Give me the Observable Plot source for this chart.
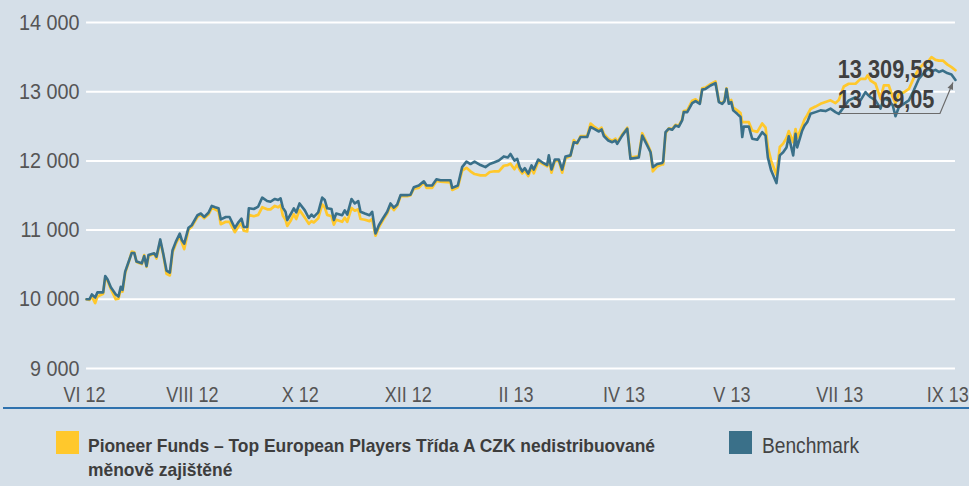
<!DOCTYPE html>
<html>
<head>
<meta charset="utf-8">
<script src="https://cdn.jsdelivr.net/npm/d3@7"></script>
<script src="https://cdn.jsdelivr.net/npm/@observablehq/plot@0.6"></script>
<style>
  html, body { margin: 0; padding: 0; }
  body { width: 969px; height: 486px; background: #d5dfe8; position: relative; overflow: hidden;
         font-family: "Liberation Sans", Arial, sans-serif; }
  #chart { position: absolute; left: 0; top: 0; }
  .rule { position: absolute; left: 3px; top: 407px; width: 966px; height: 2px; background: #2f72ae; }
  .sw { position: absolute; width: 23px; height: 23px; top: 431px; }
  .lg { position: absolute; white-space: nowrap; transform-origin: 0 0; }
  .lg div { white-space: nowrap; display: block; }
  .lg span { display: inline-block; }
</style>
</head>
<body>
<div id="chart"></div>
<div class="rule"></div>
<div class="sw" style="left:56px;background:#ffc82c"></div>
<div class="lg" id="lg1" data-w="567" style="left:88px;top:434px;font-size:19px;line-height:24px;font-weight:bold;color:#3d3d3d"><div><span>Pioneer Funds – Top European Players Třída A CZK nedistribuované</span></div><div>měnově zajištěné</div></div>
<div class="sw" style="left:729px;background:#3a7089"></div>
<div class="lg" id="lg2" data-w="97" style="left:762px;top:434px;font-size:22px;line-height:24px;color:#444"><div><span>Benchmark</span></div></div>
<script>
const t = [0.019,0.046,0.068,0.099,0.120,0.173,0.192,0.213,0.244,0.290,
0.315,0.336,0.352,0.377,0.414,0.438,0.461,0.482,0.531,0.553,
0.575,0.593,0.646,0.667,0.702,0.729,0.760,0.791,0.816,0.846,
0.883,0.902,0.924,0.964,0.994,1.047,1.078,1.109,1.149,1.180,
1.211,1.242,1.263,1.310,
1.344,1.393,1.430,1.455,1.476,1.508,1.523,1.569,1.610,1.647,
1.693,1.724,1.764,1.795,1.817,1.838,1.863,1.879,1.909,1.940,
1.962,1.993,2.042,2.079,2.104,2.125,2.166,2.203,2.227,2.249,
2.289,2.311,2.333,2.388,2.412,2.435,2.475,2.505,2.537,2.558,
2.598,2.641,2.666,2.697,
2.728,2.768,2.805,2.836,2.867,2.898,2.929,2.991,3.021,3.052,
3.098,3.145,3.170,3.222,3.262,3.299,3.392,3.408,3.460,3.500,
3.540,3.577,3.615,3.670,3.716,3.756,3.800,3.840,3.886,3.923,
3.948,3.985,4.010,4.034,
4.057,4.081,4.112,4.143,4.164,4.205,4.242,4.288,4.303,4.328,
4.359,4.396,4.427,4.458,4.504,4.535,4.566,4.597,4.659,4.690,
4.720,4.767,4.792,4.813,4.854,4.891,4.921,4.937,4.983,5.030,
5.060,5.100,5.137,5.169,5.215,5.246,5.267,5.308,5.354,
5.363,5.385,5.415,5.447,5.477,5.508,5.539,5.554,5.586,5.632,
5.663,5.703,5.725,5.755,5.802,5.848,5.879,5.910,5.932,5.950,
5.971,5.994,6.012,6.049,6.080,6.096,6.110,6.157,6.188,6.235,
6.281,6.312,6.333,6.364,6.413,6.444,6.475,6.506,6.527,6.568,
6.590,6.605,6.652,6.673,6.698,
6.729,6.775,6.821,6.868,6.914,6.960,6.991,7.037,7.083,7.146,
7.192,7.238,7.257,7.285,7.331,7.377,7.408,7.454,7.491,7.516,
7.547,7.593,7.640,7.686,7.732,7.779,7.819,7.850,7.887,7.918,
7.955,7.995,8.035,8.072];

const bench = [10000,10000,10070,10025,10100,10100,10335,10290,10175,10070,
10040,10180,10135,10400,10565,10670,10670,10545,10520,10625,
10480,10640,10665,10615,10865,10665,10415,10385,10710,10830,
10950,10855,10805,11035,11070,11215,11240,11190,11250,11350,
11330,11315,11155,11190,
11190,11030,11120,11165,11045,11045,11315,11305,11340,11470,
11420,11410,11450,11435,11460,11325,11265,11145,11225,11315,
11255,11385,11285,11175,11225,11190,11255,11470,11435,11315,
11305,11145,11240,11215,11285,11225,11450,11385,11420,11265,
11240,11215,11265,10950,
11070,11175,11265,11385,11325,11370,11505,11505,11510,11620,
11645,11705,11645,11645,11735,11720,11720,11610,11645,11910,
11990,11955,11990,11940,11910,11955,11980,12005,12065,12050,
12100,12005,12030,11910,
11850,11895,11815,11935,11875,12020,11980,11940,12080,11875,
12020,12020,11875,12065,12080,12270,12260,12345,12345,12490,
12465,12425,12455,12360,12295,12270,12295,12245,12365,12465,
12030,12040,12050,12365,12225,12125,11910,11955,11970,
11995,12415,12465,12450,12510,12495,12585,12705,12705,12835,
12865,12825,13030,13040,13090,13125,12850,12825,12865,13040,
12825,12850,12730,12680,12635,12345,12495,12495,12320,12305,
12415,12365,12050,11860,11680,12080,12125,12195,12355,12080,
12390,12195,12440,12510,12560,
12680,12705,12730,12720,12755,12705,12680,12775,12875,12920,
12875,12995,12960,12920,12875,12755,12900,12875,12800,12645,
12775,12825,12875,13020,13185,13270,13330,13295,13315,13285,
13305,13270,13250,13169.05];

const fund = [10000,9990,10040,9945,10040,10080,10310,10270,10150,10000,
10010,10150,10110,10380,10560,10690,10680,10540,10510,10640,
10470,10620,10660,10590,10840,10650,10370,10345,10680,10800,
10920,10820,10725,11010,11050,11190,11220,11170,11225,11320,
11300,11270,11085,11120,
11120,10970,11060,11100,10990,10980,11220,11200,11220,11330,
11300,11300,11350,11330,11360,11210,11150,11060,11130,11230,
11160,11290,11180,11090,11130,11110,11170,11370,11330,11220,
11200,11080,11150,11120,11180,11120,11320,11280,11300,11160,
11150,11130,11160,10920,
11040,11150,11240,11360,11290,11350,11490,11490,11500,11600,
11610,11690,11610,11610,11710,11700,11690,11580,11620,11860,
11900,11850,11810,11790,11790,11840,11850,11850,11930,11940,
11960,11880,11950,11870,
11820,11860,11780,11900,11820,11990,11960,11920,12050,11830,
12000,12000,11830,12040,12070,12300,12250,12360,12360,12540,
12500,12450,12480,12390,12320,12290,12320,12270,12380,12480,
12050,12060,12070,12400,12250,12140,11850,11920,11950,
11950,12400,12470,12460,12520,12510,12600,12720,12730,12870,
12890,12840,13050,13060,13110,13150,12860,12830,12880,13050,
12850,12880,12770,12730,12690,12560,12560,12560,12440,12420,
12540,12480,12200,12000,11800,12200,12250,12330,12430,12270,
12460,12330,12510,12600,12660,
12750,12785,12825,12850,12875,12835,12880,13075,13115,13115,
13185,13185,13235,13160,13115,12900,13090,13090,12920,12835,
12970,12990,13040,13200,13330,13405,13440,13500,13460,13450,
13450,13395,13355,13309.58];

const tickPos = [0, 1, 2, 3, 4, 5, 6, 7, 8];
const tickLabels = ["VI 12", "VIII 12", "X 12", "XII 12", "II 13", "IV 13", "V 13", "VII 13", "IX 13"];
const yTicks = [9000, 10000, 11000, 12000, 13000, 14000];

const FONT = '"Liberation Sans", Arial, sans-serif';
const rows = t.map((d, i) => ({t: d, fund: fund[i], bench: bench[i]}));
const last = rows[rows.length - 1];
const tMin = d3.min(t), tMax = d3.max(t);
const fmtInt = d => d3.format(",")(d).replace(/,/g, " ");
const fmtDec = d => d3.format(",.2f")(d).replace(/,/g, " ").replace(".", ",");
const yLabelSet = new Set(yTicks.map(fmtInt));
const annSet = new Set([fmtDec(last.fund), fmtDec(last.bench)]);

const plot = Plot.plot({
  width: 969,
  height: 406,
  marginLeft: 84,
  marginRight: 14,
  marginTop: 22,
  marginBottom: 38,
  style: {background: "transparent", fontFamily: FONT, fontSize: "22px", color: "#555", overflow: "visible"},
  x: {domain: [0, 8], range: [84, 947.2]},
  y: {domain: [9000, 14000]},
  marks: [
    Plot.ruleY(yTicks, {x1: tMin, x2: tMax, stroke: "#ffffff", strokeWidth: 2}),
    Plot.axisY(yTicks, {tickSize: 0, tickPadding: 5, tickFormat: fmtInt, fontSize: 22, fill: "#555", label: null}),
    Plot.axisX(tickPos, {tickSize: 0, tickPadding: 18, tickFormat: i => tickLabels[i], fontSize: 22, fill: "#555", label: null}),
    Plot.line(rows, {x: "t", y: "fund", stroke: "#ffc82c", strokeWidth: 2.7, strokeLinejoin: "round"}),
    Plot.line(rows, {x: "t", y: "bench", stroke: "#3a7089", strokeWidth: 2.6, strokeLinejoin: "round"}),
    Plot.text([last], {x: "t", y: "fund", text: d => fmtDec(d.fund), textAnchor: "end", lineAnchor: "bottom",
      dx: -21, dy: 8, fontSize: 25, fontWeight: "bold", fill: "#3f3f3f"}),
    Plot.text([last], {x: "t", y: "bench", text: d => fmtDec(d.bench), textAnchor: "end", lineAnchor: "bottom",
      dx: -21, dy: 28, fontSize: 25, fontWeight: "bold", fill: "#3f3f3f"})
  ]
});

// condensed look: horizontally squeeze each text about its own anchor
function squeeze(el, s) {
  const tr = el.getAttribute("transform");
  if (tr) {
    el.setAttribute("transform", tr + ` scale(${s},1)`);
  } else {
    const x = +el.getAttribute("x") || 0, y = +el.getAttribute("y") || 0;
    el.removeAttribute("x"); el.removeAttribute("y");
    el.setAttribute("transform", `translate(${x},${y}) scale(${s},1)`);
  }
}
plot.querySelectorAll("text").forEach(el => {
  const txt = el.textContent;
  let s = 0.82;
  if (annSet.has(txt)) s = 0.87;
  else if (yLabelSet.has(txt)) s = 0.9;
  squeeze(el, s);
});

// leader line with arrow to the benchmark end point
const sx = plot.scale("x"), sy = plot.scale("y");
const px = sx.apply(last.t), py = sy.apply(last.bench);
const ns = "http://www.w3.org/2000/svg";
const p0 = [px - 115, py + 34], p1 = [px - 15, py + 34], p2 = [px - 2, py + 3];
const path = document.createElementNS(ns, "path");
path.setAttribute("d", `M${p0[0]},${p0[1]}H${p1[0]}L${p2[0]},${p2[1]}`);
path.setAttribute("fill", "none");
path.setAttribute("stroke", "#6b6b6b");
path.setAttribute("stroke-width", "1.2");
plot.appendChild(path);
const vx = p2[0] - p1[0], vy = p2[1] - p1[1], L = Math.hypot(vx, vy);
const ux = vx / L, uy = vy / L, al = 7, aw = 3;
const head = document.createElementNS(ns, "path");
const bx = p2[0] - ux * al, by = p2[1] - uy * al;
head.setAttribute("d", `M${p2[0]},${p2[1]}L${bx - uy * aw},${by + ux * aw}L${bx + uy * aw},${by - ux * aw}Z`);
head.setAttribute("fill", "#6b6b6b");
plot.appendChild(head);

document.getElementById("chart").appendChild(plot);

// fit legend texts to the reference widths with a horizontal squeeze
document.querySelectorAll(".lg").forEach(el => {
  const w = el.querySelector("span").getBoundingClientRect().width;
  const target = +el.dataset.w;
  el.style.transform = `scaleX(${Math.min(1, target / w)})`;
});
</script>
</body>
</html>
